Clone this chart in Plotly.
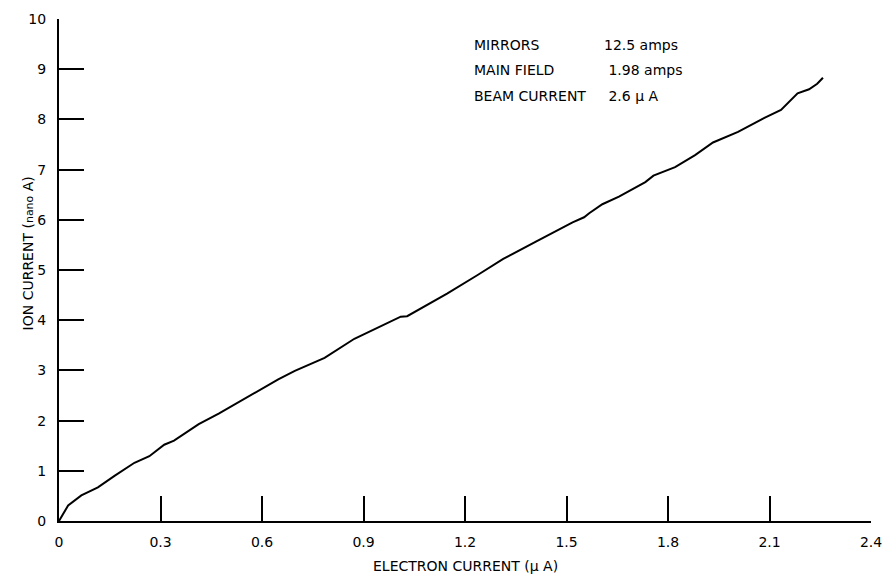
import plotly.graph_objects as go

electron_current = [0.0, 0.027, 0.066, 0.115, 0.164, 0.223, 0.267, 0.311, 0.340, 0.413, 0.472,
                    0.540, 0.648, 0.697, 0.785, 0.873, 0.961, 1.010, 1.029, 1.078, 1.147,
                    1.235, 1.313, 1.411, 1.518, 1.552, 1.567, 1.606, 1.655, 1.733, 1.757,
                    1.821, 1.880, 1.933, 2.007, 2.085, 2.134, 2.183, 2.217, 2.241, 2.258]
ion_current = [0.0, 0.31, 0.51, 0.67, 0.90, 1.16, 1.29, 1.52, 1.60, 1.93, 2.14,
               2.40, 2.82, 2.99, 3.25, 3.63, 3.91, 4.07, 4.08, 4.27, 4.53,
               4.89, 5.22, 5.57, 5.95, 6.05, 6.13, 6.31, 6.46, 6.75, 6.88,
               7.05, 7.29, 7.54, 7.75, 8.03, 8.19, 8.52, 8.60, 8.71, 8.83]

x_ticks = [0, 0.3, 0.6, 0.9, 1.2, 1.5, 1.8, 2.1, 2.4]
x_tick_labels = ["0", "0.3", "0.6", "0.9", "1.2", "1.5", "1.8", "2.1", "2.4"]
y_ticks = list(range(0, 11))
y_tick_labels = [str(v) for v in y_ticks]

info_labels = ["MIRRORS", "MAIN FIELD", "BEAM CURRENT"]
info_values = ["12.5 amps", " 1.98 amps", " 2.6 \u03bc A"]

FONT = "DejaVu Sans"


def f(size):
    return dict(family=FONT, size=size, color="black")


fig = go.Figure()
fig.add_trace(go.Scatter(x=electron_current, y=ion_current, mode="lines",
                         line=dict(color="black", width=2),
                         showlegend=False, hoverinfo="skip"))

fig.update_layout(
    width=893, height=580,
    margin=dict(l=59, r=15, t=11, b=59),
    paper_bgcolor="white", plot_bgcolor="white",
    font=f(14),
    xaxis=dict(range=[0, 2.4], tickvals=x_ticks, ticktext=x_tick_labels,
               ticks="inside", ticklen=25, tickwidth=1.5, tickcolor="black",
               showline=True, linecolor="black", linewidth=2,
               showgrid=False, zeroline=False, ticklabelstandoff=7,
               tickfont=f(14)),
    yaxis=dict(range=[0, 10], tickvals=y_ticks, ticktext=y_tick_labels,
               ticks="inside", ticklen=25, tickwidth=1.5, tickcolor="black",
               showline=True, linecolor="black", linewidth=2,
               showgrid=False, zeroline=False, ticklabelstandoff=8,
               tickfont=f(14)),
)

fig.add_annotation(text="ELECTRON CURRENT (\u03bc A)", xref="paper", yref="paper",
                   x=0.5, y=0, yshift=-45, yanchor="middle", showarrow=False,
                   font=f(14))
fig.add_annotation(text="ION CURRENT (<span style='font-size:11px'>nano</span> A)",
                   xref="paper", yref="paper", x=0, xshift=-41, y=0.533,
                   textangle=-90, showarrow=False, font=f(14))

label_x_px = 476
value_x_px = 607
rows_y_px = [37, 63, 89]
for lab, val, ypx in zip(info_labels, info_values, rows_y_px):
    yp = 1 - (ypx - 11) / 510
    fig.add_annotation(text=lab, xref="paper", yref="paper",
                       x=(label_x_px - 59) / 819, y=yp, xanchor="left", yanchor="middle",
                       showarrow=False, font=f(14))
    fig.add_annotation(text=val, xref="paper", yref="paper",
                       x=(value_x_px - 59) / 819, y=yp, xanchor="left", yanchor="middle",
                       showarrow=False, font=f(14))

fig.write_html("out.html")
